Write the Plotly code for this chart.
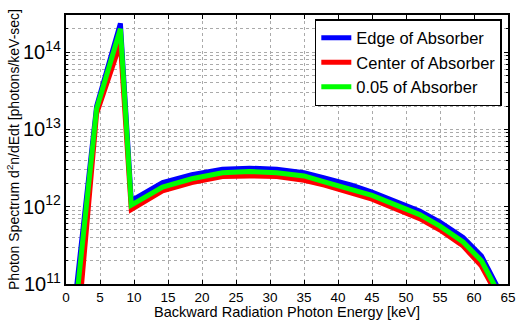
import plotly.graph_objects as go

energy = [1.2, 4.5, 8.0, 9.6, 14.2, 18.5, 23, 27, 31, 35, 38, 42, 45, 52, 55, 58.4, 61.1, 63.5]
edge = [4.8e10, 2.0e13, 2.35e14, 1.2e12, 2.05e12, 2.6e12, 3.05e12, 3.15e12, 3.05e12, 2.75e12,
        2.35e12, 1.9e12, 1.55e12, 8.8e11, 6.3e11, 4.0e11, 2.3e11, 9e10]
center = [8e9, 1.6e13, 1.3e14, 9.2e11, 1.6e12, 2.05e12, 2.45e12, 2.5e12, 2.45e12, 2.2e12,
          1.9e12, 1.5e12, 1.25e12, 7.0e11, 5.0e11, 3.1e11, 1.7e11, 7e10]
frac005 = [3.2e10, 1.85e13, 2.0e14, 1.05e12, 1.8e12, 2.3e12, 2.75e12, 2.85e12, 2.75e12, 2.5e12,
           2.1e12, 1.7e12, 1.4e12, 7.9e11, 5.6e11, 3.5e11, 2.0e11, 8e10]
names = ["Edge of Absorber", "Center of Absorber", "0.05 of Absorber"]
colors = ["#0000ff", "#ff0000", "#00ff00"]
x_ticks = list(range(0, 70, 5))
x_title = "Backward Radiation Photon Energy [keV]"
y_title = "Photon Spectrum d<sup>2</sup>n/dEdt [photons/keV-sec]"

M_T, M_B = 15, 38
plot_h = 322 - M_T - M_B

fig = go.Figure()
for name, ys, c in zip(names, [edge, center, frac005], colors):
    fig.add_trace(go.Scatter(x=energy, y=ys, mode="lines", name=name,
                             line=dict(color=c, width=5)))

font = "Liberation Sans, Arial, sans-serif"
fig.update_layout(
    width=518, height=322,
    margin=dict(l=66, r=10, t=M_T, b=M_B),
    paper_bgcolor="white", plot_bgcolor="white",
    font=dict(family=font, size=15, color="black"),
    legend=dict(x=0.986, y=0.985, xanchor="right", yanchor="top",
                bgcolor="white", bordercolor="black", borderwidth=1.5,
                font=dict(size=16.5), tracegroupgap=0, itemwidth=30),
    showlegend=True,
    annotations=[dict(text=x_title, x=0.5, y=-(M_B - 1) / plot_h, xref="paper", yref="paper",
                      xanchor="center", yanchor="bottom", showarrow=False,
                      borderpad=0, font=dict(size=14.5))],
)
fig.update_xaxes(range=[0, 65], tickvals=x_ticks, showline=True, linecolor="black", linewidth=2,
                 mirror="ticks", ticks="inside", ticklen=4, tickcolor="black", automargin=False,
                 showgrid=True, gridcolor="#aaaaaa", griddash="dot", gridwidth=1, zeroline=False,
                 ticklabelstandoff=0, tickfont=dict(size=13.5))
fig.update_yaxes(type="log", range=[11, 14.48], dtick=1, exponentformat="power",
                 showline=True, linecolor="black", linewidth=2, automargin=False,
                 mirror="ticks", ticks="inside", ticklen=4, tickcolor="black",
                 showgrid=True, gridcolor="#aaaaaa", griddash="dot", gridwidth=1,
                 minor=dict(showgrid=True, gridcolor="#aaaaaa", griddash="dot", ticks="inside",
                            ticklen=2, tickcolor="black"),
                 title=dict(text=y_title, standoff=0, font=dict(size=14)),
                 tickfont=dict(size=16))
fig.write_html("out.html")
